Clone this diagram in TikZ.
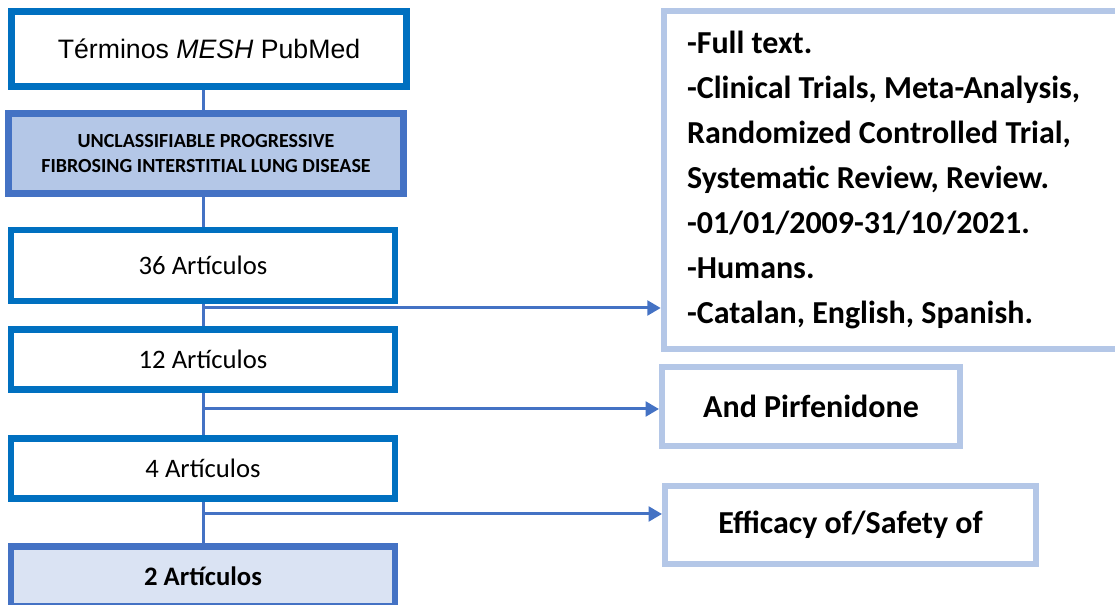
\documentclass[tikz,border=0pt]{standalone}
\usepackage{fontspec}
\setmainfont{Carlito}
\newfontfamily\arialfont{Liberation Sans}
\usetikzlibrary{arrows.meta,positioning,calc}
\definecolor{darkblue}{RGB}{0,112,192}
\definecolor{midblue}{RGB}{68,114,196}
\definecolor{lightblue}{RGB}{180,199,231}
\definecolor{paleblue}{RGB}{218,227,243}

\begin{document}
\begin{tikzpicture}[x=0.75pt,y=0.75pt,yscale=-1,xscale=1,
	box/.style={draw=darkblue, line width=5pt, fill=white, minimum width=288pt, minimum height=45pt, inner sep=0pt, font=\fontsize{20pt}{24pt}\selectfont},
	filter/.style={draw=lightblue, line width=4.5pt, fill=white, inner sep=0pt, font=\fontsize{24pt}{33.75pt}\selectfont\bfseries},
	link/.style={draw=midblue, line width=2.25pt},
	arrow/.style={link, -{Triangle[length=10pt,width=11pt]}}]
	\useasboundingbox (0,0) rectangle (1115,605);
	\clip (0,0) rectangle (1115,605);
	
	% Search boxes
	\node [box, minimum width=296.25pt, minimum height=56.25pt, font=\arialfont\fontsize{20pt}{24pt}\selectfont] (terms) at (209,49) {Términos \textit{MESH} PubMed};
	\node [box, draw=midblue, fill=lightblue, minimum width=296.25pt, minimum height=60pt, align=center, font=\fontsize{15pt}{18.75pt}\selectfont\bfseries] (disease) at (206,153.5) {UNCLASSIFIABLE PROGRESSIVE\\FIBROSING INTERSTITIAL LUNG DISEASE};
	\node [box, minimum height=53.25pt] (art36) at (203,265.5) {36 Artículos};
	\node [box] (art12) at (203,359.5) {12 Artículos};
	\node [box] (art4) at (203,468.5) {4 Artículos};
	\node [box, draw=midblue, fill=paleblue, font=\fontsize{20pt}{24pt}\selectfont\bfseries] (art2) at (203,576.5) {2 Artículos};
	
	% Filter boxes
	\node [filter, minimum width=346pt, minimum height=253.5pt, text width=311pt, inner xsep=17.5pt, align=left] (limits) at (894.4,180) {\spaceskip=0pt \xspaceskip=0pt -Full text.\\-Clinical Trials, Meta-Analysis,\\Randomized Controlled Trial,\\Systematic Review, Review.\\-01/01/2009-31/10/2021.\\-Humans.\\-Catalan, English, Spanish.};
	\node [filter, minimum width=223.5pt, minimum height=59.25pt] (drug) at (811,406.5) {And Pirfenidone};
	\node [filter, minimum width=278.25pt, minimum height=58.5pt] (outcome) at (850.5,525) {Efficacy of/Safety of};
	
	% Trunk
	\draw [link] (terms.south -| art36) -- (disease.north -| art36);
	\draw [link] (disease.south -| art36) -- (art36.north);
	\draw [link] (art36) -- (art12);
	\draw [link] (art12) -- (art4);
	\draw [link] (art4) -- (art2);
	
	% Branches
	\coordinate (b1) at (art36.south |- 0,308);
	\coordinate (b2) at (art12.south |- 0,409);
	\coordinate (b3) at (art4.south |- 0,514);
	\draw [arrow] (b1) -- (b1 -| limits.west);
	\draw [arrow] (b2) -- (b2 -| drug.west);
	\draw [arrow] (b3) -- (b3 -| outcome.west);
	
\end{tikzpicture}
\end{document}
